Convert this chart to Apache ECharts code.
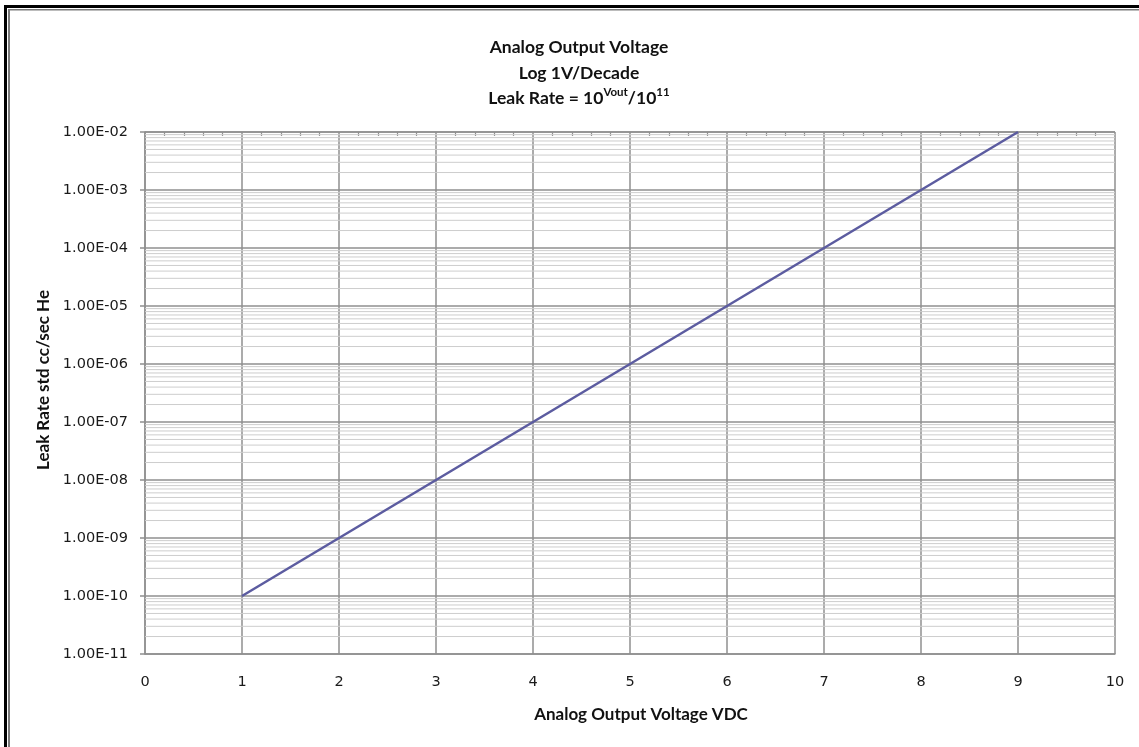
<!DOCTYPE html>
<html>
<head>
<meta charset="utf-8">
<script src="https://cdn.jsdelivr.net/npm/echarts@6/dist/echarts.min.js"></script>
<style>
    html, body { margin: 0; padding: 0; background: #fff; }
    #chart { width: 1139px; height: 747px; }
</style>
</head>
<body>
<div id="chart"></div>
<script>
// values (Vout -> leak rate)
const voltage = [1, 2, 3, 4, 5, 6, 7, 8, 9];
const leakRate = [1e-10, 1e-9, 1e-8, 1e-7, 1e-6, 1e-5, 1e-4, 1e-3, 1e-2];
const xRange = [0, 10];
const yRange = [1e-11, 1e-2];
const minorSteps = [2, 3, 4, 5, 6, 7, 8, 9];

const chart = echarts.init(document.getElementById('chart'));

// Excel-style 1.00E-02 labels
function sciLabel(v) {
    const exp = Math.round(Math.log10(v));
    const mant = v / Math.pow(10, exp);
    const sign = exp < 0 ? '-' : '+';
    const e = String(Math.abs(exp)).padStart(2, '0');
    return mant.toFixed(2) + 'E' + sign + e;
}

// log-spaced minor grid lines (2..9 within every decade)
const minorLines = [];
for (let d = Math.log10(yRange[0]); d < Math.log10(yRange[1]); d++) {
    minorSteps.forEach(m => minorLines.push(m * Math.pow(10, d)));
}

const gridColor = '#8f8f8f';
const labelFont = 'DejaVu Sans, Verdana, sans-serif';
const nameFont = 'Lato, Calibri, sans-serif';

const option = {
    animation: false,
    title: {
        text: 'Analog Output Voltage\nLog 1V/Decade\nLeak Rate = 10{sup|Vout}/10{sup|11}',
        left: 574,
        top: 30,
        textAlign: 'center',
        textStyle: {
            fontFamily: nameFont,
            fontWeight: 'bold',
            fontSize: 17.5,
            lineHeight: 25.5,
            color: '#111',
            rich: {
                sup: {
                    fontFamily: nameFont,
                    fontWeight: 'bold',
                    fontSize: 11.5,
                    lineHeight: 12,
                    verticalAlign: 'top',
                    color: '#111'
                }
            }
        }
    },
    grid: { left: 145, right: 24, top: 132, bottom: 93, containLabel: false },
    xAxis: [
        {
            type: 'value',
            min: xRange[0],
            max: xRange[1],
            interval: 1,
            name: 'Analog Output Voltage VDC',
            nameLocation: 'middle',
            nameGap: 52,
            nameTextStyle: { fontFamily: nameFont, fontWeight: 'bold', fontSize: 17, color: '#111', padding: [0, 0, 0, 22] },
            axisLine: { show: true, lineStyle: { color: gridColor, width: 1.5 } },
            axisTick: { show: false },
            axisLabel: { margin: 21, fontFamily: labelFont, fontSize: 14.5, color: '#1a1a1a' },
            splitLine: { show: true, lineStyle: { color: gridColor, width: 1.5 } }
        },
        {
            // only carries the small inside ticks along the top edge
            type: 'value',
            position: 'top',
            min: xRange[0],
            max: xRange[1],
            interval: 1,
            axisLine: { show: false },
            axisLabel: { show: false },
            axisTick: { show: false },
            minorTick: { show: true, splitNumber: 5, length: -4, lineStyle: { color: gridColor, width: 1.2 } },
            splitLine: { show: false }
        }
    ],
    yAxis: {
        type: 'log',
        logBase: 10,
        min: yRange[0],
        max: yRange[1],
        splitNumber: 9,
        name: 'Leak Rate std cc/sec He',
        nameLocation: 'middle',
        nameRotate: 90,
        nameGap: 92,
        nameTextStyle: { fontFamily: nameFont, fontWeight: 'bold', fontSize: 17, color: '#111', padding: [0, 0, 0, 26] },
        axisLine: { show: true, lineStyle: { color: gridColor, width: 1.5 } },
        axisTick: { show: true, length: 5, lineStyle: { color: gridColor, width: 1.5 } },
        axisLabel: { margin: 17, fontFamily: labelFont, fontSize: 14.5, color: '#1a1a1a', formatter: sciLabel },
        splitLine: { show: true, lineStyle: { color: gridColor, width: 1.5 } }
    },
    series: [
        {
            // minor grid, drawn through the axes
            type: 'custom',
            silent: true,
            z: 1,
            data: minorLines,
            renderItem: function (params, api) {
                const v = api.value(0);
                const a = api.coord([xRange[0], v]);
                const b = api.coord([xRange[1], v]);
                return {
                    type: 'line',
                    shape: { x1: a[0], y1: a[1], x2: b[0], y2: b[1] },
                    style: { stroke: '#cdcdcd', lineWidth: 1 }
                };
            },
            encode: { y: 0 }
        },
        {
            type: 'line',
            data: voltage.map((v, i) => [v, leakRate[i]]),
            showSymbol: false,
            lineStyle: { color: '#5c5ca0', width: 2.5 },
            z: 3
        }
    ],
    graphic: [
        // double frame on left and top edges
        { type: 'rect', shape: { x: 4, y: 5, width: 1135, height: 3 }, style: { fill: '#000' } },
        { type: 'rect', shape: { x: 8, y: 9, width: 1131, height: 1.5 }, style: { fill: '#7a7a7a' } },
        { type: 'rect', shape: { x: 4, y: 5, width: 3, height: 742 }, style: { fill: '#000' } },
        { type: 'rect', shape: { x: 8, y: 9, width: 2, height: 738 }, style: { fill: '#7a7a7a' } }
    ]
};

chart.setOption(option);
</script>
</body>
</html>
